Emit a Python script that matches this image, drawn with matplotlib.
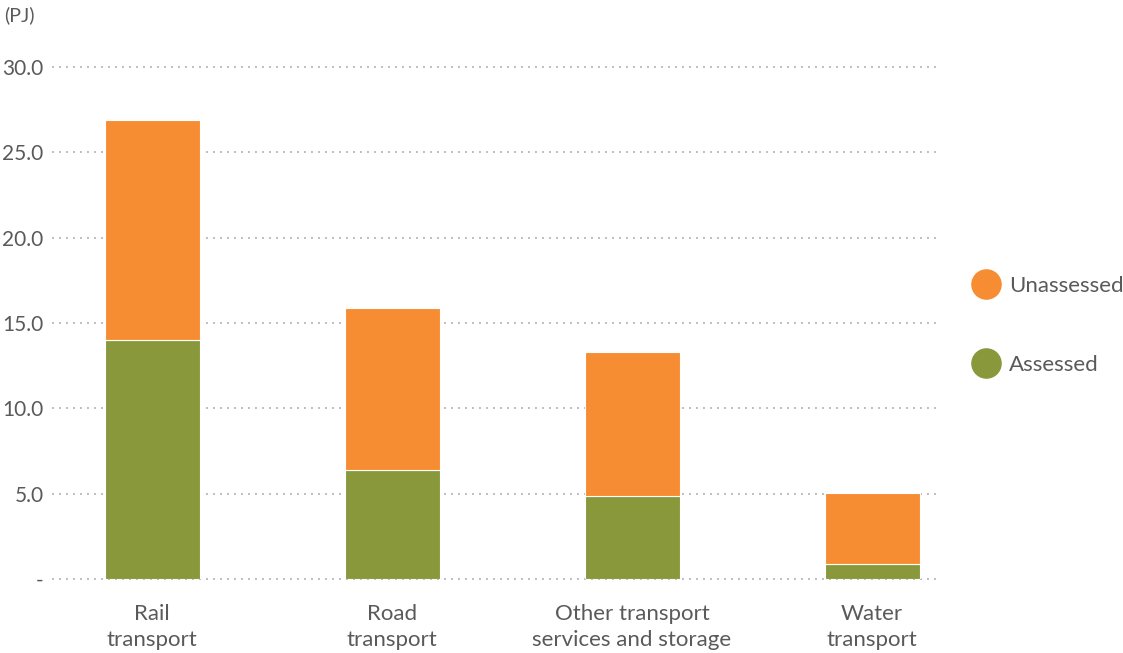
import matplotlib
matplotlib.use("Agg")
import matplotlib.pyplot as plt
from matplotlib.lines import Line2D

# Energy use by transport sub-sector (PJ)
categories = ["Rail\ntransport", "Road\ntransport",
              "Other transport\nservices and storage", "Water\ntransport"]
assessed = [14.0, 6.4, 4.85, 0.9]
unassessed = [12.9, 9.5, 8.45, 4.15]
y_ticks = [0, 5, 10, 15, 20, 25, 30]
y_tick_labels = ["-", "5.0", "10.0", "15.0", "20.0", "25.0", "30.0"]

GREEN = "#89983B"
ORANGE = "#F78D33"
TEXT = "#5A5A5A"

plt.rcParams["font.family"] = ["Lato", "DejaVu Sans"]

fig = plt.figure(figsize=(11.23, 6.53), dpi=100)
ax = fig.add_axes([0.0463, 0.1133, 0.7907, 0.7841])

x = list(range(len(categories)))
width = 0.396
ax.bar(x, assessed, width, color=GREEN, edgecolor="white", linewidth=0.8,
       zorder=3, label="Assessed")
ax.bar(x, unassessed, width, bottom=assessed, color=ORANGE, edgecolor="white",
       linewidth=0.8, zorder=3, label="Unassessed")

ax.set_xlim(-0.417, 3.283)
ax.set_ylim(0, 30)
ax.set_yticks(y_ticks)
ax.set_yticklabels(y_tick_labels)
ax.set_xticks(x)
ax.set_xticklabels(categories, linespacing=1.4)

for yv in y_ticks:
    ax.axhline(yv, color="#BDBDBD", linewidth=1.4, linestyle=(0, (1, 2.6)),
               zorder=1, clip_on=False)

for s in ax.spines.values():
    s.set_visible(False)
ax.tick_params(axis="both", length=0, labelcolor=TEXT)
ax.tick_params(axis="y", pad=6, labelsize=15)
ax.tick_params(axis="x", pad=18, labelsize=16)

fig.text(0.004, 0.977, "(PJ)", fontsize=14, color=TEXT, ha="left", va="center")

handles = [
    Line2D([], [], marker="o", linestyle="none", markersize=21,
           markerfacecolor=ORANGE, markeredgecolor=ORANGE, label="Unassessed"),
    Line2D([], [], marker="o", linestyle="none", markersize=21,
           markerfacecolor=GREEN, markeredgecolor=GREEN, label="Assessed"),
]
leg = fig.legend(handles=handles, loc="center left",
                 bbox_to_anchor=(0.848, 0.502), frameon=False,
                 fontsize=16, labelspacing=2.65, handletextpad=0.45,
                 handlelength=1.2, labelcolor=TEXT)

fig.savefig("out.png", dpi=100, facecolor="white")
